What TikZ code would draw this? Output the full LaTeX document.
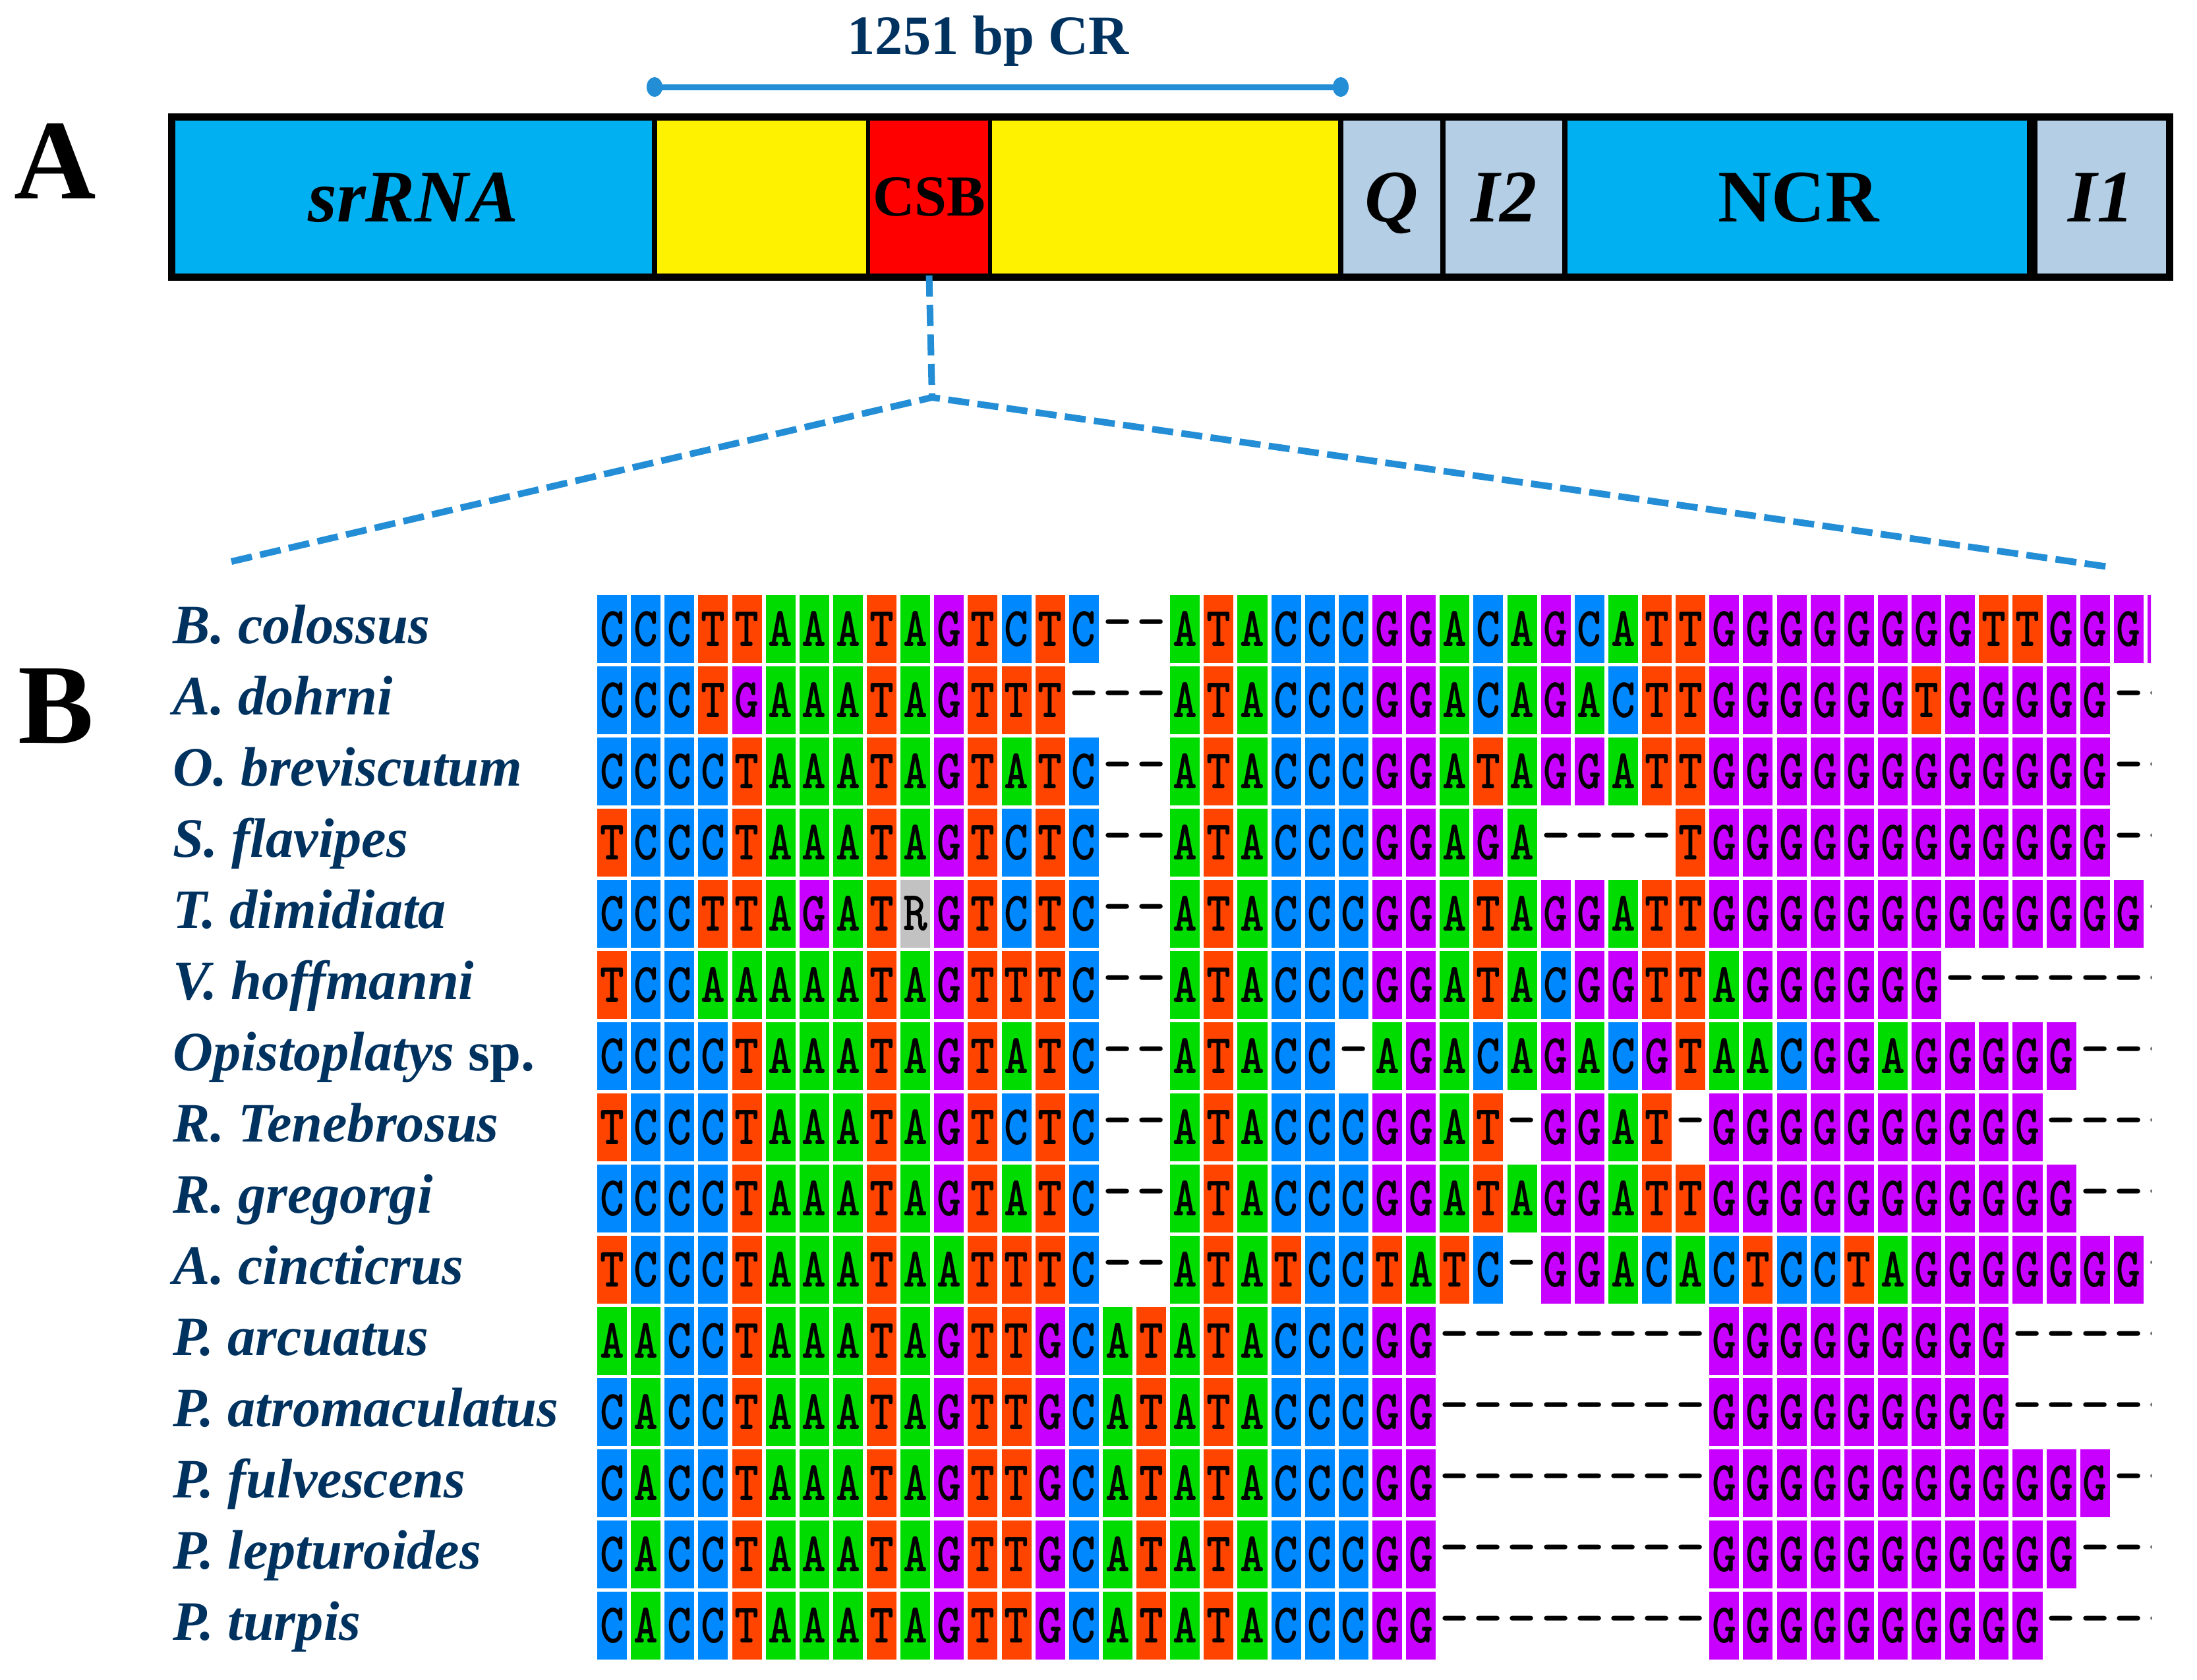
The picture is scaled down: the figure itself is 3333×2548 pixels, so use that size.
\documentclass[tikz,border=0pt]{standalone}
\usepackage{fontspec}
\setmainfont{Liberation Serif}
\definecolor{colA}{RGB}{0,220,0}
\definecolor{colC}{RGB}{0,136,255}
\definecolor{colG}{RGB}{200,0,255}
\definecolor{colT}{RGB}{255,68,0}
\definecolor{colR}{RGB}{194,194,194}
\definecolor{segcyan}{RGB}{0,176,240}
\definecolor{seglight}{RGB}{180,206,230}
\definecolor{dashblue}{RGB}{35,142,214}
\definecolor{navy}{RGB}{0,50,96}

\newcount\seqcol
\def\seqrow{0}
\newcommand\alignrow[2]{\def\seqrow{#1}\global\seqcol=0 \alignchars#2\relax}
\def\alignchars#1{\ifx#1\relax\else\aligncell{#1}\global\advance\seqcol by 1 \expandafter\alignchars\fi}
\newcommand\aligncell[1]{%
  \pgfmathsetmacro\cellx{928.5+51.13*\the\seqcol}%
  \pgfmathsetmacro\celly{954.5+108*\seqrow}%
  \edef\cellname{s\seqrow-\the\seqcol}%
  \if#1-%
    \node[gapch] (\cellname) at (\cellx,\celly) {-};%
  \else
    \node[basecell, fill=col#1] (\cellname) at (\cellx,\celly) {\scalebox{0.95}[1.15]{#1}};%
  \fi}

\tikzset{
  seg/.style={draw=black, line width=2.28pt, minimum height=2.43cm, inner sep=0pt, outer sep=0pt,
    font=\fontsize{32}{32}\selectfont\bfseries, text height=21.2pt, text depth=0pt},
  basecell/.style={rectangle, minimum width=0.45cm, minimum height=1.03cm, inner sep=0pt,
    font=\ttfamily\bfseries\fontsize{21}{21}\selectfont, text=black},
  gapch/.style={inner sep=0pt, font=\ttfamily\bfseries\fontsize{24}{24}\selectfont, text=black},
  species/.style={anchor=base west, inner sep=0pt, text=navy, font=\fontsize{24}{24}\selectfont\bfseries\itshape},
  panel/.style={anchor=base west, inner sep=0pt, font=\fontsize{49}{49}\selectfont\bfseries},
  zoomline/.style={draw=dashblue, line width=2.85pt, dash pattern=on 9.1pt off 3.6pt, line join=round},
  crline/.style={draw=dashblue, line width=2.56pt}
}

\begin{document}
\begin{tikzpicture}[x=0.01cm, y=-0.01cm]
\useasboundingbox (0,0) rectangle (3333,2548);

% ---------- Panel A ----------
\node[panel] (pa) at (21,301) {A};
\node[anchor=base, inner sep=0pt, text=navy, font=\fontsize{24}{24}\selectfont\bfseries] (crtext) at (1499,82) {1251 bp CR};
\coordinate (crL) at (993,132);
\coordinate (crR) at (2034,132);
\draw[crline] (crL) -- (crR);
\fill[dashblue] (crL) ellipse [x radius=0.12cm, y radius=0.15cm];
\fill[dashblue] (crR) ellipse [x radius=0.12cm, y radius=0.15cm];

\node[seg, fill=yellow, minimum width=3.25cm] (yel1) at (1155.5,299) {};
\node[seg, fill=yellow, minimum width=5.33cm] (yel2) at (1767.5,299) {};
\node[seg, fill=segcyan, minimum width=7.325cm, font=\fontsize{32}{32}\selectfont\bfseries\itshape] (srrna) at (626.75,299) {srRNA};
\node[seg, fill=seglight, minimum width=1.55cm, font=\fontsize{32}{32}\selectfont\bfseries\itshape] (q) at (2111.5,299) {Q};
\node[seg, fill=seglight, minimum width=1.85cm, font=\fontsize{32}{32}\selectfont\bfseries\itshape] (i2) at (2281.5,299) {I2};
\node[seg, fill=segcyan, minimum width=7.09cm] (ncr) at (2728.5,299) {NCR};
\node[seg, fill=seglight, minimum width=2.085cm, font=\fontsize{32}{32}\selectfont\bfseries\itshape] (i1) at (3187.25,299) {I1};
\node[draw=black, fill=red, line width=1.42pt, minimum width=1.83cm, minimum height=2.39cm, inner sep=0pt, outer sep=0pt,
  font=\fontsize{25}{25}\selectfont\bfseries, text height=16.5pt, text depth=0pt] (csb) at (1409.5,298.5) {CSB};
\draw[line width=4.55pt] (ncr.north east) -- (ncr.south east);
\draw[line width=3.13pt] (srrna.north west) rectangle (i1.south east);

% zoom connectors
\coordinate (apex) at (1414,603);
\coordinate (dl) at (351,852);
\coordinate (dr) at (3205,861);
\draw[zoomline] (csb.south) -- (apex);
\draw[zoomline] (dl) -- (apex) -- (dr);

% ---------- Panel B ----------
\node[panel] (pb) at (27,1127) {B};

\node[species] (n0) at (262,976) {B. colossus};
\node[species] (n1) at (262,1084) {A. dohrni};
\node[species] (n2) at (262,1192) {O. breviscutum};
\node[species] (n3) at (262,1300) {S. flavipes};
\node[species] (n4) at (262,1408) {T. dimidiata};
\node[species] (n5) at (262,1516) {V. hoffmanni};
\node[species] (n6) at (262,1624) {Opistoplatys \textup{sp.}};
\node[species] (n7) at (262,1732) {R. Tenebrosus};
\node[species] (n8) at (262,1840) {R. gregorgi};
\node[species] (n9) at (262,1948) {A. cincticrus};
\node[species] (n10) at (262,2056) {P. arcuatus};
\node[species] (n11) at (262,2164) {P. atromaculatus};
\node[species] (n12) at (262,2272) {P. fulvescens};
\node[species] (n13) at (262,2380) {P. lepturoides};
\node[species] (n14) at (262,2488) {P. turpis};

\begin{scope}
\clip (880,880) rectangle (3263,2540);
\alignrow{0}{CCCTTAAATAGTCTC--ATACCCGGACAGCATTGGGGGGGGTTGGGG}
\alignrow{1}{CCCTGAAATAGTTT---ATACCCGGACAGACTTGGGGGGTGGGGG--}
\alignrow{2}{CCCCTAAATAGTATC--ATACCCGGATAGGATTGGGGGGGGGGGG--}
\alignrow{3}{TCCCTAAATAGTCTC--ATACCCGGAGA----TGGGGGGGGGGGG--}
\alignrow{4}{CCCTTAGATRGTCTC--ATACCCGGATAGGATTGGGGGGGGGGGGG-}
\alignrow{5}{TCCAAAAATAGTTTC--ATACCCGGATACGGTTAGGGGGG-------}
\alignrow{6}{CCCCTAAATAGTATC--ATACC-AGACAGACGTAACGGAGGGGG---}
\alignrow{7}{TCCCTAAATAGTCTC--ATACCCGGAT-GGAT-GGGGGGGGGG----}
\alignrow{8}{CCCCTAAATAGTATC--ATACCCGGATAGGATTGGGGGGGGGGG---}
\alignrow{9}{TCCCTAAATAATTTC--ATATCCTATC-GGACACTCCTAGGGGGGG-}
\alignrow{10}{AACCTAAATAGTTGCATATACCCGG--------GGGGGGGGG-----}
\alignrow{11}{CACCTAAATAGTTGCATATACCCGG--------GGGGGGGGG-----}
\alignrow{12}{CACCTAAATAGTTGCATATACCCGG--------GGGGGGGGGGGG--}
\alignrow{13}{CACCTAAATAGTTGCATATACCCGG--------GGGGGGGGGGG---}
\alignrow{14}{CACCTAAATAGTTGCATATACCCGG--------GGGGGGGGGG----}
\end{scope}
\end{tikzpicture}
\end{document}
